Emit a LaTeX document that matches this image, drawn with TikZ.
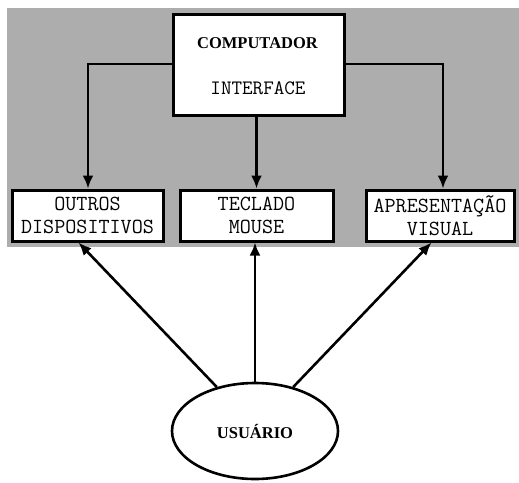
\documentclass[tikz,border=0pt]{standalone}
\usepackage{fontspec}
\setmainfont{Liberation Serif}
\setmonofont{Latin Modern Mono}
\usetikzlibrary{shapes.geometric,arrows.meta}

\tikzset{
  unitbox/.style={draw, line width=3pt, fill=white, rectangle, inner sep=0pt,
    minimum height=51pt, align=center,
    font=\ttfamily\fontsize{21.5}{23}\selectfont},
  link/.style={line width=2.6pt, -{Latex[length=13pt,width=11pt]}},
  boldlabel/.style={font=\bfseries\fontsize{16.5}{18}\selectfont, inner sep=0pt},
  monolabel/.style={font=\ttfamily\fontsize{20.5}{22}\selectfont, inner sep=0pt}
}

\begin{document}
\begin{tikzpicture}[x=1pt,y=-1pt]
  \useasboundingbox (0,0) rectangle (519,482);
  % shaded system area
  \fill[black!32] (7,8) rectangle (519,247);

  % computer
  \node[draw, line width=3pt, fill=white, minimum width=171pt, minimum height=101pt,
        inner sep=0pt] (comp) at (258.5,64.5) {};
  \node[boldlabel] (comptitle) at (257.5,43) {COMPUTADOR};
  \node[monolabel] (iface) at (258,88) {INTERFACE};

  % devices
  \node[unitbox, minimum width=151pt] (outros) at (87.5,215.5) {OUTROS\\DISPOSITIVOS};
  \node[unitbox, minimum width=153pt] (teclado) at (256.5,215.5) {TECLADO\\MOUSE};
  \node[unitbox, minimum width=148pt] (apres) at (440,215.5) {APRESENTAÇÃO\\VISUAL};

  % user
  \node[draw, ellipse, line width=2.6pt, minimum width=166pt, minimum height=96pt,
        boldlabel] (user) at (255,431) {USUÁRIO};

  % computer to devices
  \draw[link] (comp.west |- 0,64) -| ([xshift=0.5pt]outros.north);
  \draw[link] (comp.south -| teclado.north) -- (teclado.north);
  \draw[link] (comp.east |- 0,64) -| ([xshift=3pt]apres.north);

  % user to devices
  \draw[link] (user.131) -- ([xshift=68pt]outros.south west);
  \draw[link] (user.north) -- (user.north |- teclado.south);
  \draw[link] (user.49) -- ([xshift=67pt]apres.south west);
\end{tikzpicture}
\end{document}
